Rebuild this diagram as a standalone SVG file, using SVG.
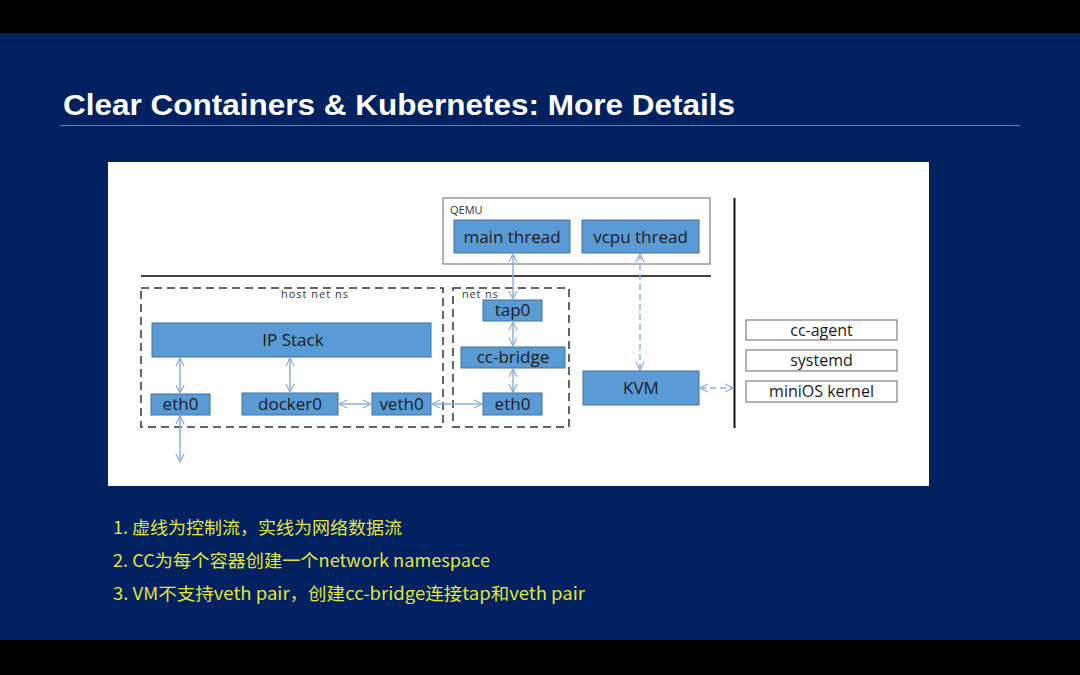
<svg xmlns="http://www.w3.org/2000/svg" width="1080" height="675" viewBox="0 0 1080 675">
<defs>
<style>
.box{fill:#5b9bd5;stroke:#41719c;stroke-width:1}
.wbox{fill:#ffffff;stroke:#7f7f7f;stroke-width:1.2}
.bt{font-family:"Open Sans","Liberation Sans",sans-serif;font-size:17px;fill:#1a1a1a;text-anchor:middle}
.wt{font-family:"Open Sans","Liberation Sans",sans-serif;font-size:16px;fill:#1a1a1a;text-anchor:middle}
.sm{font-family:"Open Sans","Liberation Sans",sans-serif;font-size:11px;fill:#333}
.dash{fill:none;stroke:#333;stroke-width:1.5;stroke-dasharray:8,5}
.ar{fill:none;stroke:#8fb0dd;stroke-width:1.5;marker-start:url(#ah);marker-end:url(#ah)}
.ard{fill:none;stroke:#8fb0dd;stroke-width:1.5;stroke-dasharray:6,4;marker-start:url(#ah);marker-end:url(#ah)}
.note{font-family:"Noto Sans CJK SC",sans-serif;font-size:17.5px;fill:#e2e63a}
</style>
<marker id="ah" viewBox="0 0 10 10" refX="9" refY="5" markerWidth="10" markerHeight="10" markerUnits="userSpaceOnUse" orient="auto-start-reverse">
<path d="M1,1 L9,5 L1,9" fill="none" stroke="#8fb0dd" stroke-width="1.3"/>
</marker>
</defs>
<rect x="0" y="0" width="1080" height="675" fill="#000"/>
<rect x="0" y="33" width="1080" height="607" fill="#012160"/>
<text x="63" y="115" font-family="Liberation Sans,Arial,sans-serif" font-weight="bold" font-size="29" fill="#fff" textLength="672" lengthAdjust="spacingAndGlyphs">Clear Containers &amp; Kubernetes: More Details</text>
<line x1="60" y1="125.5" x2="1020" y2="125.5" stroke="#6d7fa6" stroke-width="1"/>
<rect x="108" y="162" width="821" height="324" fill="#fff"/>

<g id="qemu"><rect x="443" y="198" width="267" height="66" class="wbox"/><text x="450" y="214" class="sm" font-size="13">QEMU</text></g>
<g id="main-thread"><rect x="454" y="220" width="116" height="33" class="box"/><text x="512" y="243" class="bt">main thread</text></g>
<g id="vcpu-thread"><rect x="582" y="220" width="117" height="33" class="box"/><text x="640.5" y="243" class="bt">vcpu thread</text></g>
<line x1="141" y1="276" x2="711" y2="276" stroke="#444" stroke-width="2.2"/>
<line x1="734.5" y1="198" x2="734.5" y2="428" stroke="#111" stroke-width="2"/>
<g id="host-net-ns"><rect x="141" y="288" width="302" height="139" class="dash"/><text x="315" y="298" class="sm" text-anchor="middle" font-size="11" letter-spacing="1">host net ns</text></g>
<g id="net-ns"><rect x="453" y="288" width="116" height="139" class="dash"/><text x="462" y="298" class="sm" font-size="11" letter-spacing="0.8">net ns</text></g>
<g id="ip-stack"><rect x="152" y="323" width="279" height="34" class="box"/><text x="293" y="346" class="bt">IP Stack</text></g>
<g id="eth0-host"><rect x="151" y="394" width="59" height="21" class="box"/><text x="180.5" y="410" class="bt">eth0</text></g>
<g id="docker0"><rect x="242" y="393" width="96" height="22" class="box"/><text x="290" y="410" class="bt">docker0</text></g>
<g id="veth0"><rect x="372" y="393" width="59" height="22" class="box"/><text x="401.5" y="410" class="bt">veth0</text></g>
<g id="tap0"><rect x="483" y="300" width="59" height="21" class="box"/><text x="512.5" y="316" class="bt">tap0</text></g>
<g id="cc-bridge"><rect x="461" y="347" width="104" height="21" class="box"/><text x="513" y="363" class="bt">cc-bridge</text></g>
<g id="eth0-ns"><rect x="483" y="393" width="59" height="22" class="box"/><text x="512.5" y="410" class="bt">eth0</text></g>
<g id="kvm"><rect x="583" y="371" width="116" height="34" class="box"/><text x="641" y="394" class="bt">KVM</text></g>
<g id="cc-agent"><rect x="746" y="320" width="151" height="20" class="wbox"/><text x="821.5" y="336" class="wt">cc-agent</text></g>
<g id="systemd"><rect x="746" y="350" width="151" height="21" class="wbox"/><text x="821.5" y="366" class="wt">systemd</text></g>
<g id="minios-kernel"><rect x="746" y="381" width="151" height="21" class="wbox"/><text x="821.5" y="397" class="wt">miniOS kernel</text></g>

<g id="connectors">
<line x1="513" y1="254" x2="513" y2="299" class="ar"/>
<line x1="640" y1="254" x2="640" y2="370" class="ard"/>
<line x1="180" y1="358" x2="180" y2="393" class="ar"/>
<line x1="290" y1="358" x2="290" y2="392" class="ar"/>
<line x1="339" y1="404" x2="371" y2="404" class="ar"/>
<line x1="432" y1="404" x2="482" y2="404" class="ar"/>
<line x1="513" y1="322" x2="513" y2="346" class="ar"/>
<line x1="513" y1="369" x2="513" y2="392" class="ar"/>
<line x1="180" y1="416" x2="180" y2="462" class="ar"/>
<line x1="700" y1="388" x2="733" y2="388" class="ard"/>
</g>

<text x="113" y="534" class="note" textLength="289" lengthAdjust="spacingAndGlyphs">1. 虚线为控制流，实线为网络数据流</text>
<text x="113" y="567" class="note" textLength="377" lengthAdjust="spacingAndGlyphs">2. CC为每个容器创建一个network namespace</text>
<text x="113" y="600" class="note" textLength="472" lengthAdjust="spacingAndGlyphs">3. VM不支持veth pair，创建cc-bridge连接tap和veth pair</text>
</svg>
